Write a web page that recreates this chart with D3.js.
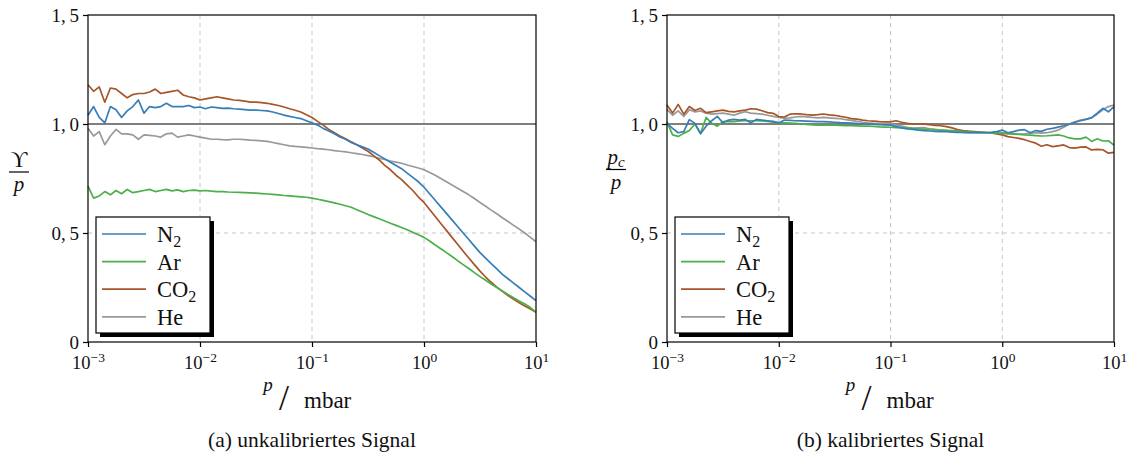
<!DOCTYPE html>
<html>
<head>
<meta charset="utf-8">
<script src="https://cdn.jsdelivr.net/npm/d3@7/dist/d3.min.js"></script>
<style>
body { margin: 0; background: #fff; }
svg { font-family: "Liberation Serif", "Times New Roman", serif; }
</style>
</head>
<body>
<div id="chart"></div>
<script>
/* pressure grid, log10(p / mbar) */
var logP = [-3.00,-2.95,-2.90,-2.85,-2.80,-2.75,-2.70,-2.65,-2.60,-2.55,-2.50,-2.45,-2.40,-2.35,-2.30,-2.25,-2.20,-2.15,-2.10,-2.05,-2.00,
            -1.95,-1.90,-1.85,-1.80,-1.75,-1.70,-1.65,-1.60,-1.55,-1.50,-1.45,-1.40,-1.35,-1.30,-1.25,-1.20,-1.15,-1.10,-1.05,-1.00,
            -0.95,-0.90,-0.85,-0.80,-0.75,-0.70,-0.65,-0.60,-0.55,-0.50,-0.45,-0.40,-0.35,-0.30,-0.25,-0.20,-0.15,-0.10,-0.05,0.00,
            0.05,0.10,0.15,0.20,0.25,0.30,0.35,0.40,0.45,0.50,0.55,0.60,0.65,0.70,0.75,0.80,0.85,0.90,0.95,1.00];

/* (a) uncalibrated signal / p */
var n2Raw = [1.04,1.08,1.03,1.005,1.08,1.065,1.03,1.06,1.08,1.11,1.05,1.08,1.075,1.08,1.095,1.08,1.08,1.08,1.085,1.075,1.078,
             1.07,1.078,1.075,1.072,1.073,1.07,1.068,1.066,1.064,1.064,1.062,1.06,1.055,1.048,1.041,1.035,1.03,1.025,1.015,1.005,
             0.995,0.98,0.968,0.955,0.94,0.93,0.915,0.905,0.895,0.885,0.87,0.855,0.84,0.825,0.81,0.795,0.775,0.755,0.735,0.71,
             0.68,0.65,0.62,0.59,0.56,0.53,0.50,0.47,0.44,0.41,0.385,0.36,0.335,0.31,0.29,0.27,0.25,0.23,0.21,0.19];
var arRaw = [0.715,0.66,0.67,0.69,0.675,0.695,0.68,0.70,0.685,0.69,0.695,0.70,0.69,0.695,0.70,0.693,0.698,0.69,0.695,0.697,0.693,
             0.695,0.692,0.69,0.69,0.688,0.687,0.686,0.685,0.684,0.683,0.681,0.679,0.677,0.675,0.672,0.67,0.668,0.666,0.664,0.66,
             0.655,0.65,0.644,0.638,0.632,0.625,0.618,0.607,0.596,0.585,0.575,0.565,0.555,0.545,0.535,0.525,0.515,0.503,0.492,0.48,
             0.463,0.445,0.428,0.41,0.392,0.373,0.355,0.337,0.318,0.30,0.283,0.266,0.25,0.234,0.218,0.203,0.188,0.174,0.158,0.137];
var co2Raw = [1.18,1.15,1.17,1.10,1.165,1.16,1.14,1.12,1.135,1.14,1.14,1.147,1.16,1.14,1.145,1.15,1.155,1.133,1.125,1.12,1.11,
              1.115,1.12,1.125,1.12,1.115,1.11,1.108,1.105,1.10,1.10,1.098,1.095,1.09,1.085,1.078,1.07,1.063,1.055,1.042,1.03,
              1.012,0.995,0.975,0.96,0.945,0.932,0.918,0.905,0.89,0.875,0.855,0.835,0.81,0.79,0.765,0.745,0.72,0.695,0.665,0.64,
              0.608,0.576,0.544,0.512,0.48,0.448,0.416,0.385,0.355,0.325,0.298,0.274,0.252,0.232,0.213,0.196,0.18,0.165,0.151,0.137];
var heRaw = [0.98,0.945,0.965,0.905,0.945,0.975,0.955,0.955,0.95,0.93,0.95,0.948,0.945,0.94,0.955,0.958,0.94,0.945,0.95,0.945,0.94,
             0.935,0.93,0.93,0.928,0.927,0.93,0.93,0.928,0.926,0.925,0.923,0.92,0.915,0.91,0.905,0.90,0.897,0.895,0.893,0.89,
             0.887,0.885,0.882,0.878,0.875,0.872,0.868,0.864,0.86,0.855,0.85,0.843,0.837,0.83,0.825,0.82,0.812,0.805,0.798,0.79,
             0.778,0.765,0.75,0.735,0.72,0.705,0.69,0.675,0.658,0.64,0.623,0.605,0.588,0.57,0.553,0.535,0.518,0.50,0.48,0.46];

/* (b) calibrated pressure p_c / p */
var n2Cal = [1.003,0.98,0.96,0.965,1.02,1.003,0.955,0.99,1.015,1.035,1.006,1.018,1.021,1.018,1.021,1.006,1.021,1.018,1.015,1.012,1.005,
             1.018,1.017,1.015,1.014,1.013,1.012,1.011,1.011,1.01,1.008,1.006,1.005,1.004,1.002,1.0,1.0,0.999,0.997,0.996,0.995,
             0.988,0.982,0.977,0.975,0.972,0.97,0.968,0.966,0.965,0.965,0.963,0.962,0.961,0.96,0.96,0.96,0.961,0.962,0.965,0.972,
             0.96,0.965,0.972,0.974,0.96,0.97,0.966,0.976,0.98,0.986,0.992,0.999,1.008,1.015,1.021,1.029,1.05,1.072,1.056,1.08];
var arCal = [1.01,0.95,0.943,0.957,0.97,1.0,0.957,1.03,1.003,0.99,1.011,1.012,1.011,1.014,1.015,1.015,1.015,1.014,1.012,1.008,1.006,
             1.005,1.004,1.003,1.0,0.998,0.996,0.995,0.995,0.995,0.995,0.994,0.993,0.992,0.991,0.99,0.99,0.989,0.987,0.986,0.985,
             0.983,0.982,0.981,0.98,0.978,0.976,0.975,0.973,0.972,0.971,0.97,0.968,0.966,0.965,0.963,0.962,0.96,0.959,0.958,0.957,
             0.955,0.954,0.952,0.95,0.949,0.947,0.945,0.946,0.948,0.95,0.945,0.936,0.932,0.932,0.94,0.92,0.932,0.922,0.923,0.903];
var co2Cal = [1.087,1.05,1.09,1.045,1.08,1.062,1.072,1.052,1.056,1.06,1.064,1.058,1.056,1.06,1.064,1.07,1.068,1.061,1.052,1.049,1.034,
              1.032,1.045,1.047,1.046,1.043,1.041,1.043,1.046,1.042,1.04,1.035,1.031,1.025,1.022,1.018,1.015,1.013,1.011,1.01,1.01,
              1.015,1.008,1.003,1.0,1.0,0.999,0.997,0.994,0.992,0.988,0.982,0.974,0.97,0.967,0.965,0.963,0.961,0.959,0.955,0.95,
              0.942,0.938,0.934,0.928,0.92,0.912,0.898,0.905,0.896,0.9,0.904,0.892,0.889,0.894,0.895,0.881,0.884,0.882,0.866,0.87];
var heCal = [1.067,1.04,1.06,1.035,1.065,1.055,1.06,1.05,1.045,1.048,1.05,1.045,1.04,1.05,1.056,1.05,1.048,1.045,1.04,1.035,1.03,
             1.027,1.028,1.032,1.035,1.033,1.03,1.028,1.03,1.028,1.026,1.024,1.02,1.017,1.012,1.008,1.005,1.003,1.002,1.001,1.0,
             0.995,0.99,0.985,0.98,0.982,0.983,0.978,0.975,0.972,0.97,0.967,0.965,0.962,0.96,0.96,0.96,0.96,0.96,0.96,0.96,
             0.958,0.956,0.954,0.955,0.957,0.96,0.958,0.96,0.965,0.972,0.985,1.0,1.01,1.018,1.022,1.028,1.045,1.065,1.08,1.087];

var gasNames = ["N", "Ar", "CO", "He"];
var gasSubs = ["2", "", "2", ""];
var gasColors = ["#377eb8", "#4daf4a", "#a65628", "#999999"];
var yTicks = [0, 0.5, 1.0, 1.5];
var yTickLabels = ["0", "0,\u20095", "1,\u20090", "1,\u20095"];
var xTicks = [1e-3, 1e-2, 1e-1, 1e0, 1e1];
var xTickExps = ["\u22123", "\u22122", "\u22121", "0", "1"];
var captions = ["(a) unkalibriertes Signal", "(b) kalibriertes Signal"];

var width = 1131, height = 461;
var plotTop = 15, plotBottom = 342;   /* y of 1,5 and of 0 */
var ink = "#111";

var svg = d3.select("#chart").append("svg")
    .attr("width", width)
    .attr("height", height);

function panel(left, plotW, data, caption, ylabelKind, ylabelX, xlabelShift)
{
    var x = d3.scaleLog().domain([1e-3, 10]).range([left, left + plotW]);
    var y = d3.scaleLinear().domain([0, 1.5]).range([plotBottom, plotTop]);
    var g = svg.append("g");

    /* dashed grid */
    g.selectAll("line.vgrid").data([1e-2, 1e-1, 1e0]).enter().append("line")
        .attr("x1", function (d) { return x(d); })
        .attr("x2", function (d) { return x(d); })
        .attr("y1", plotTop).attr("y2", plotBottom)
        .attr("stroke", "#c4c4c4").attr("stroke-width", 1)
        .attr("stroke-dasharray", "4,4");
    g.append("line")
        .attr("x1", left).attr("x2", left + plotW)
        .attr("y1", y(0.5)).attr("y2", y(0.5))
        .attr("stroke", "#c4c4c4").attr("stroke-width", 1)
        .attr("stroke-dasharray", "4,4");

    /* reference line at 1 */
    g.append("line")
        .attr("x1", left).attr("x2", left + plotW)
        .attr("y1", y(1)).attr("y2", y(1))
        .attr("stroke", "#000").attr("stroke-width", 1.1);

    /* the curves, drawn He first so N2 sits on top */
    var line = d3.line()
        .x(function (d, i) { return x(Math.pow(10, logP[i])); })
        .y(function (d) { return y(d); });
    for (var k = data.length - 1; k >= 0; k--) {
        g.append("path")
            .attr("d", line(data[k]))
            .attr("fill", "none")
            .attr("stroke", gasColors[k])
            .attr("stroke-width", 1.7)
            .attr("stroke-linejoin", "round");
    }

    /* frame */
    g.append("rect")
        .attr("x", left).attr("y", plotTop)
        .attr("width", plotW).attr("height", plotBottom - plotTop)
        .attr("fill", "none").attr("stroke", "#000").attr("stroke-width", 1.2);

    /* axes */
    var yAxis = g.append("g")
        .attr("transform", "translate(" + left + ",0)")
        .call(d3.axisLeft(y).tickValues(yTicks).tickSize(5).tickPadding(4)
              .tickFormat(function (d, i) { return yTickLabels[i]; }));
    var xAxis = g.append("g")
        .attr("transform", "translate(0," + plotBottom + ")")
        .call(d3.axisBottom(x).tickValues(xTicks).tickSize(5).tickPadding(9)
              .tickFormat(function () { return ""; }));
    [yAxis, xAxis].forEach(function (a) {
        a.select(".domain").remove();
        a.attr("font-family", null).attr("font-size", null);
        a.selectAll("line").attr("stroke-width", 1.2);
        a.selectAll("text").attr("font-size", 19).attr("fill", ink);
    });
    xAxis.selectAll("text").each(function (d, i) {
        var t = d3.select(this);
        t.text("10").attr("font-size", 18.5);
        t.append("tspan").attr("dy", "-0.5em").attr("font-size", 13.5).text(xTickExps[i]);
    });

    /* x label: p / mbar */
    var cx = left + plotW / 2;
    var lx0 = cx + xlabelShift;
    g.append("text").attr("x", lx0 - 44).attr("y", 391)
        .attr("font-style", "italic").attr("font-size", 19).attr("fill", ink)
        .attr("text-anchor", "middle").text("p");
    g.append("text").attr("x", lx0 - 28).attr("y", 410)
        .attr("font-size", 36).attr("text-anchor", "middle").attr("fill", ink).text("/");
    g.append("text").attr("x", lx0 - 8).attr("y", 408)
        .attr("font-size", 23).attr("fill", ink).text("mbar");

    /* y label as a fraction */
    var barY;
    if (ylabelKind === "raw") {
        g.append("text").attr("x", ylabelX).attr("y", 167).attr("font-size", 23)
            .attr("fill", ink).attr("text-anchor", "middle").text("\u03D2");
        barY = 172;
    } else {
        var t = g.append("text").attr("x", ylabelX).attr("y", 164).attr("font-size", 21)
            .attr("fill", ink).attr("font-style", "italic").attr("text-anchor", "middle");
        t.append("tspan").text("p");
        t.append("tspan").attr("dy", 3).attr("font-size", 15).text("c");
        barY = 169.5;
    }
    g.append("line").attr("x1", ylabelX - 10).attr("x2", ylabelX + 10)
        .attr("y1", barY).attr("y2", barY).attr("stroke", "#000").attr("stroke-width", 1.2);
    g.append("text").attr("x", ylabelX).attr("y", barY + 19).attr("font-size", 21)
        .attr("fill", ink).attr("font-style", "italic").attr("text-anchor", "middle").text("p");

    /* legend with drop shadow */
    var lgX = left + 8, lgY = 217, lgW = 114, lgH = 116;
    g.append("rect").attr("x", lgX + 4).attr("y", lgY + 4)
        .attr("width", lgW).attr("height", lgH).attr("fill", "#000");
    g.append("rect").attr("x", lgX).attr("y", lgY)
        .attr("width", lgW).attr("height", lgH)
        .attr("fill", "#fff").attr("stroke", "#000").attr("stroke-width", 1.2);
    gasNames.forEach(function (name, i) {
        var ey = lgY + 17 + i * 27.6;
        g.append("line").attr("x1", lgX + 6).attr("x2", lgX + 50)
            .attr("y1", ey).attr("y2", ey)
            .attr("stroke", gasColors[i]).attr("stroke-width", 1.7);
        var t = g.append("text").attr("x", lgX + 61).attr("y", ey + 8)
            .attr("font-size", 22.5).attr("fill", ink);
        t.append("tspan").text(name);
        if (gasSubs[i]) t.append("tspan").attr("dy", 5).attr("font-size", 16).text(gasSubs[i]);
    });

    /* caption */
    g.append("text").attr("x", cx).attr("y", 447)
        .attr("font-size", 21.5).attr("text-anchor", "middle").attr("fill", ink)
        .text(caption);
}

panel(88, 448, [n2Raw, arRaw, co2Raw, heRaw], captions[0], "raw", 19, 0);
panel(667, 447, [n2Cal, arCal, co2Cal, heCal], captions[1], "cal", 616, 4);
</script>
</body>
</html>
